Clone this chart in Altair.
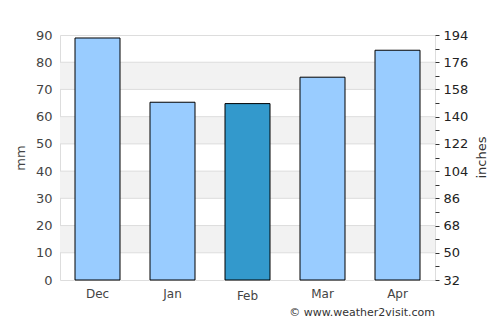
import altair as alt
import pandas as pd

months = ["Dec", "Jan", "Feb", "Mar", "Apr"]
rain_mm = [88.9, 65.3, 64.8, 74.5, 84.4]
highlight = "Feb"
band_lo = [10, 30, 50, 70]
band_hi = [20, 40, 60, 80]
grid_mm = [10, 20, 30, 40, 50, 60, 70, 80]
left_ticks = [0, 10, 20, 30, 40, 50, 60, 70, 80, 90]
right_ticks = [0, 5, 10, 15, 20, 25, 30, 35, 40, 45, 50, 55, 60, 65, 70, 75, 80, 85, 90]

bars_df = pd.DataFrame({"month": months, "mm": rain_mm})
bands_df = pd.DataFrame({"lo": band_lo, "hi": band_hi})
grid_df = pd.DataFrame({"mm": grid_mm})

yscale = alt.Scale(domain=[0, 90], nice=False, zero=True)
FONT = "DejaVu Sans"

bands = alt.Chart(bands_df).mark_rect(color="#f2f2f2").encode(
    y=alt.Y("lo:Q", scale=yscale, axis=None),
    y2="hi:Q",
)

grid = alt.Chart(grid_df).mark_rule(color="#dddddd", strokeWidth=1).encode(
    y=alt.Y(
        "mm:Q",
        scale=yscale,
        axis=alt.Axis(
            orient="right",
            values=right_ticks,
            labelExpr="datum.value % 10 == 0 ? format(datum.value * 1.8 + 32, 'd') : ''",
            title="inches",
            titleAngle=270,
            titleX=46,
            titleY=122,
            titleAlign="center",
            titleBaseline="middle",
            titleFontWeight="normal",
            titleFontSize=13,
            titleColor="#333",
            labelFontSize=13,
            labelColor="#222",
            labelPadding=4,
            tickSize=4,
            tickColor="#333",
            domain=False,
            grid=False,
        ),
    )
)

bars = alt.Chart(bars_df).mark_bar(stroke="black", strokeWidth=1).encode(
    x=alt.X(
        "month:N",
        sort=months,
        scale=alt.Scale(paddingInner=0.4, paddingOuter=0.2),
        axis=alt.Axis(
            title=None,
            labelAngle=0,
            ticks=False,
            domain=False,
            grid=False,
            labelFontSize=12,
            labelColor="#444",
            labelPadding=alt.expr("datum.value == 'Feb' ? 10 : 8"),
        ),
    ),
    y=alt.Y(
        "mm:Q",
        scale=yscale,
        axis=alt.Axis(
            orient="left",
            values=left_ticks,
            title="mm",
            titleFontWeight="normal",
            titleFontSize=13,
            titleColor="#444",
            titlePadding=8,
            labelFontSize=13,
            labelColor="#444",
            labelPadding=8,
            ticks=False,
            domain=False,
            grid=False,
        ),
    ),
    color=alt.condition(
        alt.datum.month == highlight, alt.value("#3399cc"), alt.value("#99ccff")
    ),
)

chart = (
    alt.layer(bands, grid, bars)
    .resolve_axis(y="independent")
    .properties(
        width=375,
        height=245,
        autosize=alt.AutoSizeParams(type="none"),
        padding={"left": 60, "top": 35, "right": 65, "bottom": 45},
        title=alt.TitleParams(
            "© www.weather2visit.com",
            orient="bottom",
            anchor="end",
            frame="group",
            fontSize=11,
            fontWeight="normal",
            color="#333",
            font=FONT,
            offset=6,
        ),
    )
    .configure(font=FONT)
    .configure_view(stroke="#dddddd")
)

chart.save("out.html", embed_options={"renderer": "svg", "actions": False})
